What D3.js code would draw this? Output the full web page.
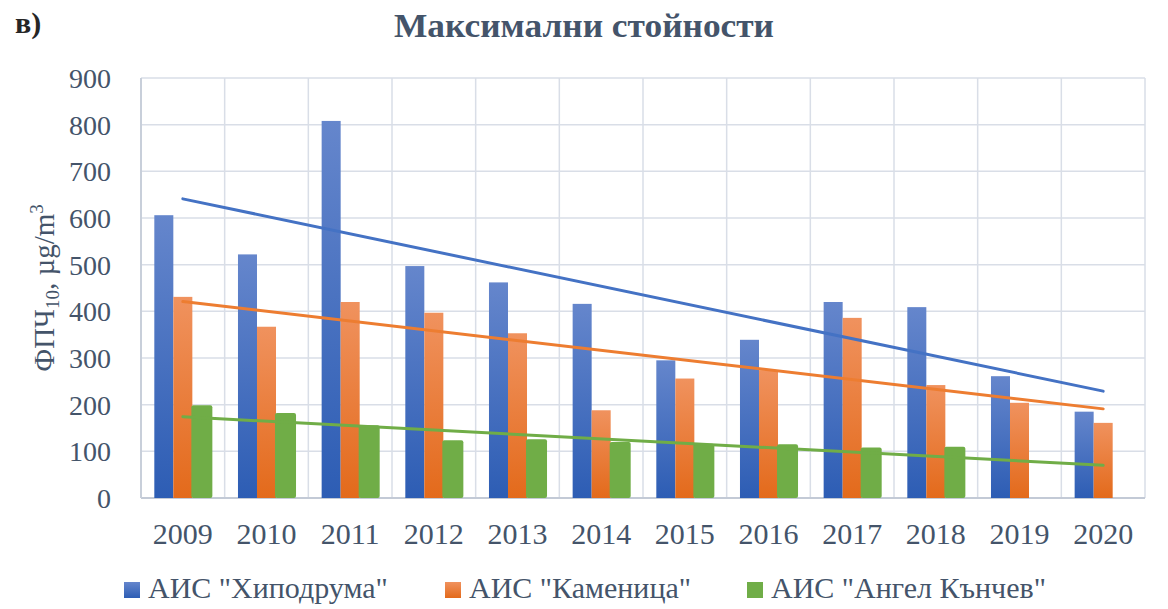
<!DOCTYPE html>
<html>
<head>
<meta charset="utf-8">
<script src="https://cdn.jsdelivr.net/npm/d3@7"></script>
<style>
  body { margin: 0; background: #fff; }
  svg text { font-family: "Liberation Serif", "DejaVu Serif", serif; fill: #44546a; }
</style>
</head>
<body>
<div id="chart"></div>
<script>
// Data

const years = ['2009','2010','2011','2012','2013','2014','2015','2016','2017','2018','2019','2020'];
const seriesNames = ['АИС "Хиподрума"', 'АИС "Каменица"', 'АИС "Ангел Кънчев"'];
const hipodruma = [606, 522, 808, 497, 462, 416, 295, 339, 420, 409, 261, 185];
const kamenitsa = [431, 367, 420, 397, 353, 188, 256, 274, 386, 242, 204, 161];
const angelKanchev = [199, 182, 156, 124, 126, 120, 116, 115, 108, 110, null, null];
const yTicks = [0, 100, 200, 300, 400, 500, 600, 700, 800, 900];
// linear trendlines: value at 2009 and at 2020
const trendStart = [641, 421, 174];
const trendEnd = [229, 191, 70];

const seriesColors = ['#4472c4', '#ed7d31', '#70ad47'];
const gradTop = ['#6586cc', '#f0925e', '#70ad47'];
const gradBottom = ['#2d5db4', '#e36a1b', '#70ad47'];

const W = 1168, H = 609;
const margin = { left: 141, right: 23, top: 78, bottom: 111 };

const svg = d3.select('#chart')
    .append('svg')
    .attr('width', W)
    .attr('height', H);

const defs = svg.append('defs');
seriesNames.forEach((s, i) => {
    const g = defs.append('linearGradient')
        .attr('id', 'grad' + i)
        .attr('x1', 0).attr('y1', 0).attr('x2', 0).attr('y2', 1);
    g.append('stop').attr('offset', '0%').attr('stop-color', gradTop[i]);
    g.append('stop').attr('offset', '100%').attr('stop-color', gradBottom[i]);
});

const x = d3.scaleBand()
    .domain(years)
    .range([margin.left, W - margin.right]);

const xInner = d3.scaleBand()
    .domain([0, 1, 2])
    .range([0, x.bandwidth()])
    .paddingOuter(0.7)
    .paddingInner(0);

const y = d3.scaleLinear()
    .domain([0, 900])
    .range([H - margin.bottom, margin.top]);

// Gridlines
const grid = svg.append('g');
grid.selectAll('.hgrid')
    .data(yTicks)
    .join('line')
    .classed('hgrid', true)
    .attr('x1', margin.left).attr('x2', W - margin.right)
    .attr('y1', d => y(d)).attr('y2', d => y(d))
    .attr('stroke', '#d9dee7')
    .attr('stroke-width', 1.5);

grid.selectAll('.vgrid')
    .data(years.concat(['end']))
    .join('line')
    .classed('vgrid', true)
    .attr('x1', (d, i) => margin.left + i * x.step())
    .attr('x2', (d, i) => margin.left + i * x.step())
    .attr('y1', y(900)).attr('y2', y(0))
    .attr('stroke', '#d9dee7')
    .attr('stroke-width', 1.5);

// Axis lines
svg.append('line')
    .attr('x1', margin.left).attr('x2', W - margin.right)
    .attr('y1', y(0)).attr('y2', y(0))
    .attr('stroke', '#c3cad6').attr('stroke-width', 2);
svg.append('line')
    .attr('x1', margin.left).attr('x2', margin.left)
    .attr('y1', y(900)).attr('y2', y(0))
    .attr('stroke', '#c8cfda').attr('stroke-width', 2);

// Bars
const allSeries = [hipodruma, kamenitsa, angelKanchev];
allSeries.forEach((vals, si) => {
    svg.append('g')
        .selectAll('rect')
        .data(vals.map((v, i) => ({ year: years[i], v: v })).filter(d => d.v != null))
        .join('rect')
        .attr('x', d => x(d.year) + xInner(si) - (si == 2 ? 1 : 0))
        .attr('width', xInner.bandwidth() + (si == 2 ? 2 : 0))
        .attr('y', d => y(d.v))
        .attr('height', d => y(0) - y(d.v))
        .attr('rx', si == 2 ? 2 : 0)
        .attr('fill', 'url(#grad' + si + ')');
});

// Trend lines
const xCenter = d => x(d) + x.bandwidth() / 2;
seriesNames.forEach((s, i) => {
    svg.append('line')
        .attr('x1', xCenter(years[0]))
        .attr('x2', xCenter(years[years.length - 1]))
        .attr('y1', y(trendStart[i]))
        .attr('y2', y(trendEnd[i]))
        .attr('stroke', seriesColors[i])
        .attr('stroke-width', 3)
        .attr('stroke-linecap', 'round');
});

// Y tick labels
svg.append('g')
    .selectAll('text')
    .data(yTicks)
    .join('text')
    .attr('x', 111)
    .attr('y', d => y(d) + 10)
    .attr('text-anchor', 'end')
    .attr('font-size', '28px')
    .text(d => d);

// X tick labels
svg.append('g')
    .selectAll('text')
    .data(years)
    .join('text')
    .attr('x', d => xCenter(d))
    .attr('y', 544)
    .attr('text-anchor', 'middle')
    .attr('font-size', '30px')
    .text(d => d);

// Title
svg.append('text')
    .attr('x', 584)
    .attr('y', 37)
    .attr('text-anchor', 'middle')
    .attr('font-size', '33px')
    .attr('font-weight', 'bold')
    .attr('textLength', 380)
    .attr('lengthAdjust', 'spacingAndGlyphs')
    .text('Максимални стойности');

svg.append('text')
    .attr('x', 15)
    .attr('y', 33)
    .attr('font-size', '30px')
    .attr('font-weight', 'bold')
    .style('fill', '#262626')
    .text('в)');

// Y axis label
const yLab = svg.append('text')
    .attr('transform', `translate(54,${(y(0) + y(900)) / 2}) rotate(-90)`)
    .attr('text-anchor', 'middle')
    .attr('font-size', '29px');
yLab.append('tspan').text('ФПЧ');
yLab.append('tspan').attr('font-size', '19px').attr('dy', 5).text('10');
yLab.append('tspan').attr('dy', -5).text(', µg/m');
yLab.append('tspan').attr('font-size', '19px').attr('dy', -11).text('3');

// Legend
const legendX = [124, 445, 747];
const legendG = svg.append('g');
legendG.selectAll('rect')
    .data(seriesNames)
    .join('rect')
    .attr('x', (d, i) => legendX[i])
    .attr('y', 582)
    .attr('width', 16)
    .attr('height', 16)
    .attr('fill', (d, i) => 'url(#grad' + i + ')');
legendG.selectAll('text')
    .data(seriesNames)
    .join('text')
    .attr('x', (d, i) => legendX[i] + 24)
    .attr('y', 598)
    .attr('font-size', '30px')
    .text(d => d);
</script>
</body>
</html>
